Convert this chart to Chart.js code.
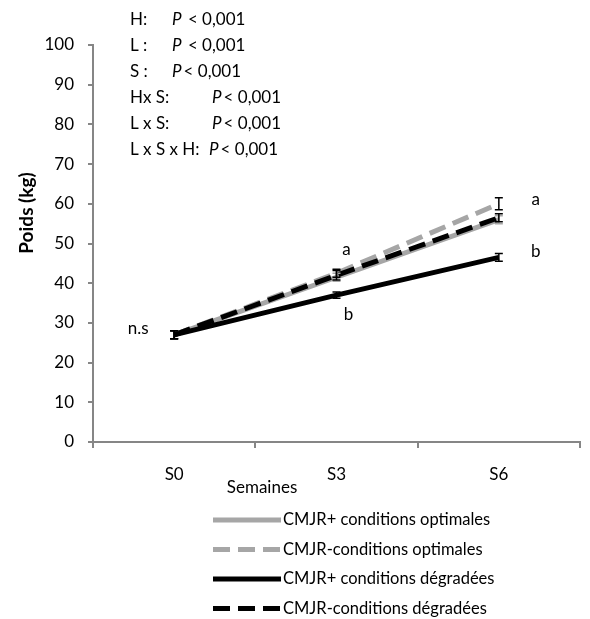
<!DOCTYPE html>
<html>
<head>
<meta charset="utf-8">
<script src="https://cdn.jsdelivr.net/npm/chart.js@4/dist/chart.umd.min.js"></script>
<style>
  body { margin: 0; background: #fff; }
  #wrap { width: 590px; height: 619px; }
</style>
</head>
<body>
<div id="wrap"><canvas id="poidsChart" width="590" height="619"></canvas></div>
<script>
// données
const semaines = ["S0", "S3", "S6"];
const optPlus = [27, 41.5, 56];
const optMoins = [27, 42.5, 60];
const degPlus = [27, 37, 46.5];
const degMoins = [27, 42, 56.5];
const errOptPlus = [1, 1, 1];
const errOptMoins = [1, 1, 1.5];
const errDegPlus = [1, 0.8, 1];
const errDegMoins = [1, 1.2, 1];
const yTicks = [0, 10, 20, 30, 40, 50, 60, 70, 80, 90, 100];

const stats = [
  ["H:", "P", " < 0,001", 172],
  ["L :", "P", " < 0,001", 172],
  ["S :", "P", "< 0,001", 172],
  ["Hx S:", "P", "< 0,001", 212],
  ["L x S:", "P", "< 0,001", 212],
  ["L x S x H:", "P", "< 0,001", 209]
];
// lettres de significativité : [semaine, valeur, texte, decalage x]
const lettres = [
  [0, 28.5, "n.s", -36],
  [1, 48.5, "a", 10],
  [1, 32, "b", 12],
  [2, 61, "a", 37],
  [2, 48, "b", 37]
];

const FONT = "Lato, 'Open Sans', sans-serif";
const GRIS = "#a6a6a6";

const errorBars = {
  id: "errorBars",
  afterDatasetsDraw(chart) {
    const ctx = chart.ctx;
    const y = chart.scales.y;
    chart.data.datasets.forEach((ds, i) => {
      const meta = chart.getDatasetMeta(i);
      ctx.save();
      ctx.strokeStyle = ds.errColor;
      ctx.lineWidth = 1.5;
      meta.data.forEach((pt, j) => {
        const e = ds.err[j];
        const top = y.getPixelForValue(ds.data[j] + e);
        const bot = y.getPixelForValue(ds.data[j] - e);
        ctx.beginPath();
        ctx.moveTo(pt.x, top); ctx.lineTo(pt.x, bot);
        ctx.moveTo(pt.x - 4, top); ctx.lineTo(pt.x + 4, top);
        ctx.moveTo(pt.x - 4, bot); ctx.lineTo(pt.x + 4, bot);
        ctx.stroke();
      });
      ctx.restore();
    });
  }
};

const textes = {
  id: "textes",
  afterDraw(chart) {
    const ctx = chart.ctx;
    const x = chart.scales.x, y = chart.scales.y;
    ctx.save();
    ctx.fillStyle = "#000";
    ctx.textBaseline = "middle";
    // statistiques
    stats.forEach((s, i) => {
      const ly = 20 + i * 26;
      ctx.font = "17px " + FONT;
      ctx.textAlign = "left";
      ctx.fillText(s[0], 130, ly);
      ctx.font = "italic 17px " + FONT;
      ctx.fillText(s[1], s[3], ly);
      const w = ctx.measureText(s[1]).width;
      ctx.font = "17px " + FONT;
      ctx.fillText(s[2], s[3] + w + 2, ly);
    });
    // lettres
    ctx.font = "17px " + FONT;
    ctx.textAlign = "center";
    lettres.forEach(l => {
      ctx.fillText(l[2], x.getPixelForValue(l[0]) + l[3], y.getPixelForValue(l[1]));
    });
    // titre axe x
    ctx.fillText("Semaines", 262, 488);
    // titre axe y
    ctx.save();
    ctx.translate(27, 213);
    ctx.rotate(-Math.PI / 2);
    ctx.font = "bold 19px " + FONT;
    ctx.fillText("Poids (kg)", 0, 0);
    ctx.restore();
    // légende
    chart.data.datasets.forEach((ds, i) => {
      const ly = 520 + i * 29.5;
      ctx.save();
      ctx.strokeStyle = ds.borderColor;
      ctx.lineWidth = 5;
      ctx.setLineDash(ds.borderDash || []);
      ctx.beginPath();
      ctx.moveTo(213, ly); ctx.lineTo(281, ly);
      ctx.stroke();
      ctx.restore();
      ctx.font = "16.5px " + FONT;
      ctx.textAlign = "left";
      ctx.fillText(ds.label, 283, ly);
    });
    ctx.restore();
  }
};

new Chart(document.getElementById("poidsChart"), {
  type: "line",
  data: {
    labels: semaines,
    datasets: [
      { label: "CMJR+ conditions optimales", data: optPlus, err: errOptPlus,
        borderColor: GRIS, errColor: GRIS, borderWidth: 5, order: 4 },
      { label: "CMJR-conditions optimales", data: optMoins, err: errOptMoins,
        borderColor: GRIS, errColor: "#000", borderWidth: 5, borderDash: [17, 8], order: 3 },
      { label: "CMJR+ conditions dégradées", data: degPlus, err: errDegPlus,
        borderColor: "#000", errColor: "#000", borderWidth: 5, order: 2 },
      { label: "CMJR-conditions dégradées", data: degMoins, err: errDegMoins,
        borderColor: "#000", errColor: "#000", borderWidth: 5, borderDash: [17, 8], order: 1 }
    ]
  },
  options: {
    responsive: false,
    animation: false,
    layout: { padding: { left: 0, right: 10, top: 45, bottom: 0 } },
    elements: { point: { radius: 0, hoverRadius: 0 }, line: { tension: 0, borderCapStyle: "butt" } },
    plugins: { legend: { display: false }, tooltip: { enabled: false } },
    scales: {
      x: {
        offset: true,
        afterFit: s => { s.height = 177; },
        border: { color: "#868686", width: 2 },
        grid: { drawOnChartArea: false, color: "#868686", tickLength: 6, offset: true, lineWidth: 2 },
        ticks: { color: "#000", font: { family: FONT, size: 17 }, padding: 16 }
      },
      y: {
        min: 0, max: 100,
        afterFit: s => { s.width = 93; },
        afterBuildTicks: s => { s.ticks = yTicks.map(v => ({ value: v })); },
        border: { color: "#868686", width: 2 },
        grid: { drawOnChartArea: false, color: "#868686", tickLength: 5, lineWidth: 2 },
        ticks: { color: "#000", font: { family: FONT, size: 17 }, padding: 14 }
      }
    }
  },
  plugins: [errorBars, textes]
});
</script>
</body>
</html>
